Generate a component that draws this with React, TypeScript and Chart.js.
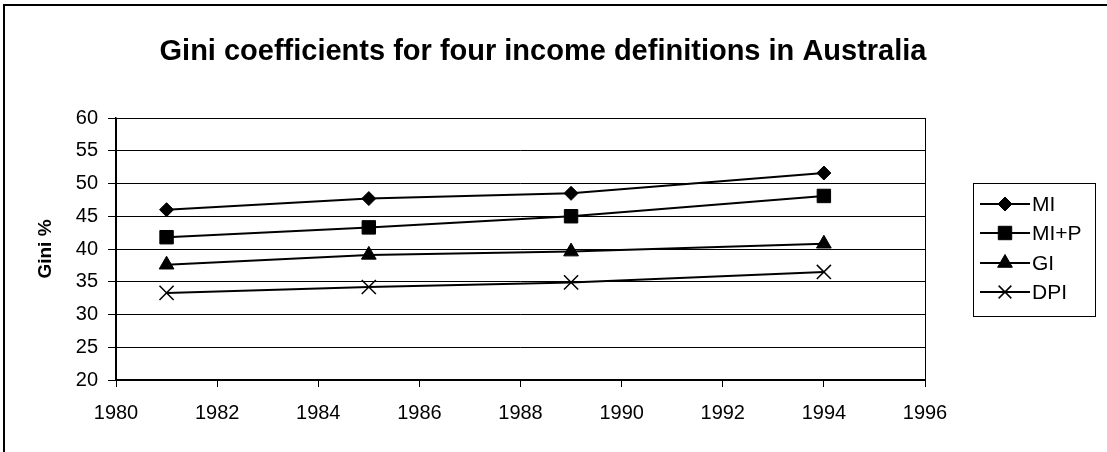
import React, { useEffect, useRef } from "react";
import { Chart, registerables } from "chart.js";
import { drawPoint } from "chart.js/helpers";

Chart.register(...registerables);

const years: number[] = [1981, 1985, 1989, 1994];
const seriesNames: string[] = ["MI", "MI+P", "GI", "DPI"];
const miValues: number[] = [46.0, 47.7, 48.5, 51.6];
const mipValues: number[] = [41.8, 43.3, 45.0, 48.1];
const giValues: number[] = [37.6, 39.1, 39.6, 40.8];
const dpiValues: number[] = [33.3, 34.2, 34.9, 36.5];
const titleText = "Gini coefficients for four income definitions in Australia";
const yTitleText = "Gini %";

const FONT = "'Liberation Sans', Arial, Helvetica, sans-serif";

const markerStyles: any[] = ["rectRot", "rect", "triangle", "crossRot"];
const markerRadius: number[] = [7, 9.5, 8.5, 10];
const legendRadius: number[] = [7, 9.5, 8.5, 9];

const decorPlugin = {
  id: "decor",
  beforeDraw(chart: any) {
    const ctx = chart.ctx;
    ctx.save();
    ctx.fillStyle = "#ffffff";
    ctx.fillRect(0, 0, chart.width, chart.height);
    ctx.strokeStyle = "#000000";
    ctx.lineWidth = 2;
    ctx.beginPath();
    ctx.moveTo(4, chart.height + 5);
    ctx.lineTo(4, 5);
    ctx.lineTo(chart.width + 5, 5);
    ctx.stroke();
    ctx.restore();
  },
  afterDraw(chart: any) {
    const ctx = chart.ctx;
    const a = chart.chartArea;
    ctx.save();
    ctx.strokeStyle = "#000000";
    ctx.lineWidth = 1;
    ctx.strokeRect(Math.round(a.left) + 0.5, Math.round(a.top) + 0.5, Math.round(a.right - a.left), Math.round(a.bottom - a.top));
    ctx.fillStyle = "#000000";
    ctx.font = `bold 29px ${FONT}`;
    ctx.textAlign = "center";
    ctx.textBaseline = "middle";
    ctx.fillText(titleText, 543, 52);
    ctx.save();
    ctx.translate(46, (a.top + a.bottom) / 2);
    ctx.rotate(-Math.PI / 2);
    ctx.font = `bold 19px ${FONT}`;
    ctx.fillText(yTitleText, 0, 0);
    ctx.restore();
    const lx = 973, ly = 183, lw = 122, lh = 133;
    ctx.lineWidth = 1;
    ctx.strokeStyle = "#000000";
    ctx.strokeRect(lx + 0.5, ly + 0.5, lw, lh);
    const rowY = [204, 233, 263, 292];
    chart.data.datasets.forEach((ds: any, i: number) => {
      const y = rowY[i];
      ctx.strokeStyle = "#000000";
      ctx.fillStyle = "#000000";
      ctx.beginPath();
      ctx.lineWidth = 2;
      ctx.moveTo(980, y);
      ctx.lineTo(1030, y);
      ctx.stroke();
      ctx.lineWidth = i === 3 ? 1.5 : 1;
      drawPoint(ctx, {
        pointStyle: markerStyles[i],
        radius: legendRadius[i],
        borderWidth: i === 3 ? 1.5 : 1,
        rotation: 0,
      } as any, 1005, y);
      ctx.fillStyle = "#000000";
      ctx.font = `21px ${FONT}`;
      ctx.textAlign = "left";
      ctx.textBaseline = "middle";
      ctx.fillText(ds.label, 1032, y + 1);
    });
    ctx.restore();
  },
};

const seriesValues = [miValues, mipValues, giValues, dpiValues];

export default function App() {
  const ref = useRef<HTMLCanvasElement | null>(null);
  useEffect(() => {
    if (!ref.current) return;
    const chart = new Chart(ref.current, {
      type: "line",
      data: {
        datasets: seriesNames.map((name, i) => ({
          label: name,
          data: years.map((yr, j) => ({ x: yr, y: seriesValues[i][j] })),
          borderColor: "#000000",
          backgroundColor: "#000000",
          borderWidth: 2,
          pointStyle: markerStyles[i],
          pointRadius: markerRadius[i],
          pointBorderWidth: i === 3 ? 1.5 : 1,
          pointBackgroundColor: "#000000",
          pointBorderColor: "#000000",
          tension: 0,
        })),
      },
      options: {
        animation: false,
        responsive: false,
        maintainAspectRatio: false,
        events: [],
        layout: { padding: { left: 0, top: 118, right: 182, bottom: 0 } },
        plugins: {
          legend: { display: false },
          title: { display: false },
          tooltip: { enabled: false },
        },
        scales: {
          x: {
            type: "linear",
            min: 1980,
            max: 1996,
            afterFit: (s: any) => { s.height = 72; },
            ticks: {
              stepSize: 2,
              color: "#000000",
              font: { family: FONT, size: 20 },
              padding: 14,
              maxRotation: 0,
              callback: (v: any) => String(v),
            },
            grid: { drawOnChartArea: false, drawTicks: true, tickLength: 7, color: "#000000" },
            border: { color: "#000000", width: 2 },
          },
          y: {
            min: 20,
            max: 60,
            afterFit: (s: any) => { s.width = 116; },
            ticks: {
              stepSize: 5,
              color: "#000000",
              font: { family: FONT, size: 20 },
              padding: 10,
            },
            grid: { color: "#000000", lineWidth: 1, tickLength: 8 },
            border: { color: "#000000", width: 1.5 },
          },
        },
      },
      plugins: [decorPlugin],
    } as any);
    return () => chart.destroy();
  }, []);
  return (
    <div style={{ position: "fixed", left: 0, top: 0, width: 1107, height: 452, background: "#fff" }}>
      <canvas ref={ref} width={1107} height={452} style={{ display: "block", width: 1107, height: 452 }} />
    </div>
  );
}
